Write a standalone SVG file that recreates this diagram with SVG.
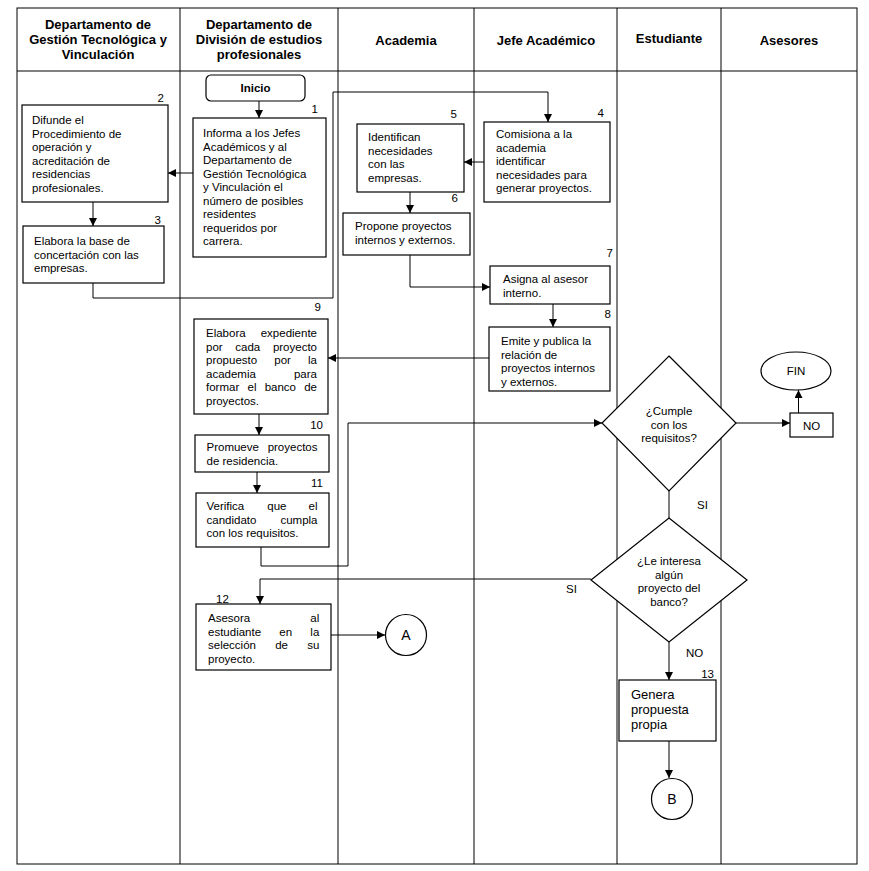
<svg xmlns="http://www.w3.org/2000/svg" width="869" height="871" viewBox="0 0 869 871">
<style>
text{font-family:"Liberation Sans",Arial,sans-serif;fill:#000}
.h{font-size:13px;font-weight:bold;text-anchor:middle}
.t{font-size:11.5px}
.n{font-size:11.5px;text-anchor:end}
.c{text-anchor:middle}
.e{text-anchor:end}
.b{fill:#fff;stroke:#000;stroke-width:1.2}
.grid{fill:none;stroke:#000;stroke-width:1}
.con{fill:none;stroke:#000;stroke-width:1}
</style>
<defs>
<marker id="ar" markerUnits="userSpaceOnUse" markerWidth="9" markerHeight="8" refX="8" refY="4" orient="auto">
<path d="M0,0 L8,4 L0,8 z" fill="#000"/>
</marker>
</defs>
<rect width="869" height="871" fill="#fff"/>
<g id="table">
<rect class="grid" x="17" y="8" width="840" height="856"/>
<line class="grid" x1="17" y1="71" x2="857" y2="71"/>
<line class="grid" x1="180" y1="8" x2="180" y2="864"/>
<line class="grid" x1="338" y1="8" x2="338" y2="864"/>
<line class="grid" x1="474" y1="8" x2="474" y2="864"/>
<line class="grid" x1="617" y1="8" x2="617" y2="864"/>
<line class="grid" x1="721" y1="8" x2="721" y2="864"/>
<text class="h" x="98" y="29">Departamento de</text>
<text class="h" x="98" y="44">Gestión Tecnológica y</text>
<text class="h" x="98" y="59">Vinculación</text>
<text class="h" x="259" y="29">Departamento de</text>
<text class="h" x="259" y="44">División de estudios</text>
<text class="h" x="259" y="59">profesionales</text>
<text class="h" x="406" y="45">Academia</text>
<text class="h" x="546" y="45">Jefe Académico</text>
<text class="h" x="669" y="43">Estudiante</text>
<text class="h" x="789" y="45">Asesores</text>
</g>
<g id="connectors">
<path class="con" d="M259,101 V118" marker-end="url(#ar)"/>
<path class="con" d="M193,173 H168" marker-end="url(#ar)"/>
<path class="con" d="M93,202 V226" marker-end="url(#ar)"/>
<path class="con" d="M93,283 V298 H333 V92 H548 V122" marker-end="url(#ar)"/>
<path class="con" d="M484,162 H464" marker-end="url(#ar)"/>
<path class="con" d="M410,192 V213" marker-end="url(#ar)"/>
<path class="con" d="M410,255 V287 H490" marker-end="url(#ar)"/>
<path class="con" d="M553,304 V327" marker-end="url(#ar)"/>
<path class="con" d="M489,358 H328" marker-end="url(#ar)"/>
<path class="con" d="M259,414 V435" marker-end="url(#ar)"/>
<path class="con" d="M257,472 V493" marker-end="url(#ar)"/>
<path class="con" d="M261,547 V566 H348 V423 H602" marker-end="url(#ar)"/>
<path class="con" d="M736,423 H790" marker-end="url(#ar)"/>
<path class="con" d="M798.5,413 V390" marker-end="url(#ar)"/>
<path class="con" d="M669,491 V518"/>
<path class="con" d="M591,579 H260 V604" marker-end="url(#ar)"/>
<path class="con" d="M331,635 H385" marker-end="url(#ar)"/>
<path class="con" d="M669,642 V680" marker-end="url(#ar)"/>
<path class="con" d="M669,741 V778" marker-end="url(#ar)"/>
<text class="t" x="697" y="509">SI</text>
<text class="t" x="566" y="593">SI</text>
<text class="t" x="686" y="657">NO</text>
</g>
<g id="inicio">
<rect class="b" x="206" y="75" width="99" height="26" rx="5"/>
<text class="t c" x="255.5" y="92" font-weight="bold" font-size="12px">Inicio</text>
</g>
<g id="n1">
<rect class="b" x="193" y="118" width="133" height="139"/>
<text class="n" x="318" y="113">1</text>
<text class="t" x="203"><tspan x="203" y="137">Informa a los Jefes</tspan><tspan x="203" y="150.5">Académicos y al</tspan><tspan x="203" y="164">Departamento de</tspan><tspan x="203" y="177.5">Gestión Tecnológica</tspan><tspan x="203" y="191">y Vinculación el</tspan><tspan x="203" y="204.5">número de posibles</tspan><tspan x="203" y="218">residentes</tspan><tspan x="203" y="231.5">requeridos por</tspan><tspan x="203" y="245">carrera.</tspan></text>
</g>
<g id="n2">
<rect class="b" x="22" y="105" width="146" height="97"/>
<text class="n" x="164" y="102">2</text>
<text class="t"><tspan x="32" y="124">Difunde el</tspan><tspan x="32" y="137.5">Procedimiento de</tspan><tspan x="32" y="151">operación y</tspan><tspan x="32" y="164.5">acreditación de</tspan><tspan x="32" y="178">residencias</tspan><tspan x="32" y="191.5">profesionales.</tspan></text>
</g>
<g id="n3">
<rect class="b" x="23" y="226" width="141" height="57"/>
<text class="n" x="161" y="224">3</text>
<text class="t"><tspan x="34" y="245">Elabora la base de</tspan><tspan x="34" y="258.5">concertación con las</tspan><tspan x="34" y="272">empresas.</tspan></text>
</g>
<g id="n4">
<rect class="b" x="484" y="122" width="126" height="80"/>
<text class="n" x="604" y="117">4</text>
<text class="t"><tspan x="496" y="138">Comisiona a la</tspan><tspan x="496" y="151.5">academia</tspan><tspan x="496" y="165">identificar</tspan><tspan x="496" y="178.5">necesidades para</tspan><tspan x="496" y="192">generar proyectos.</tspan></text>
</g>
<g id="n5">
<rect class="b" x="357" y="124" width="107" height="68"/>
<text class="n" x="457" y="118">5</text>
<text class="t"><tspan x="368" y="141">Identifican</tspan><tspan x="368" y="154.5">necesidades</tspan><tspan x="368" y="168">con las</tspan><tspan x="368" y="181.5">empresas.</tspan></text>
</g>
<g id="n6">
<rect class="b" x="343" y="213" width="127" height="42"/>
<text class="n" x="458" y="202">6</text>
<text class="t"><tspan x="355" y="230">Propone proyectos</tspan><tspan x="355" y="243.5">internos y externos.</tspan></text>
</g>
<g id="n7">
<rect class="b" x="490" y="266" width="120" height="38"/>
<text class="n" x="613" y="257">7</text>
<text class="t"><tspan x="503" y="283">Asigna al asesor</tspan><tspan x="503" y="296.5">interno.</tspan></text>
</g>
<g id="n8">
<rect class="b" x="489" y="327" width="121" height="64"/>
<text class="n" x="611" y="318">8</text>
<text class="t"><tspan x="501" y="345">Emite y publica la</tspan><tspan x="501" y="358.5">relación de</tspan><tspan x="501" y="372">proyectos internos</tspan><tspan x="501" y="385.5">y externos.</tspan></text>
</g>
<g id="n9">
<rect class="b" x="194" y="319" width="134" height="95"/>
<text class="n" x="321" y="311">9</text>
<text class="t"><tspan x="206" y="337">Elabora</tspan><tspan class="e" x="317" y="337">expediente</tspan><tspan x="206" y="350.5">por</tspan><tspan x="235.3" y="350.5">cada</tspan><tspan class="e" x="317" y="350.5">proyecto</tspan><tspan x="206" y="364">propuesto</tspan><tspan x="274.3" y="364">por</tspan><tspan class="e" x="317" y="364">la</tspan><tspan x="206" y="377.5">academia</tspan><tspan class="e" x="317" y="377.5">para</tspan><tspan x="206" y="391">formar</tspan><tspan x="247.5" y="391">el</tspan><tspan x="264.7" y="391">banco</tspan><tspan class="e" x="317" y="391">de</tspan><tspan x="206" y="404.5">proyectos.</tspan></text>
</g>
<g id="n10">
<rect class="b" x="195" y="435" width="134" height="37"/>
<text class="n" x="323" y="429">10</text>
<text class="t"><tspan x="206.5" y="451">Promueve</tspan><tspan class="e" x="317.5" y="451">proyectos</tspan><tspan x="206.5" y="464.5">de residencia.</tspan></text>
</g>
<g id="n11">
<rect class="b" x="196" y="493" width="133" height="54"/>
<text class="n" x="323" y="487">11</text>
<text class="t"><tspan x="206.5" y="510">Verifica</tspan><tspan x="267.3" y="510">que</tspan><tspan class="e" x="317.5" y="510">el</tspan><tspan x="206.5" y="523.5">candidato</tspan><tspan class="e" x="317.5" y="523.5">cumpla</tspan><tspan x="206.5" y="537">con los requisitos.</tspan></text>
</g>
<g id="n12">
<rect class="b" x="196" y="604" width="135" height="66"/>
<text class="t" x="216" y="603">12</text>
<text class="t"><tspan x="208" y="622">Asesora</tspan><tspan class="e" x="319.3" y="622">al</tspan><tspan x="208" y="635.5">estudiante</tspan><tspan x="279.3" y="635.5">en</tspan><tspan class="e" x="319.3" y="635.5">la</tspan><tspan x="208" y="649">selección</tspan><tspan x="275.2" y="649">de</tspan><tspan class="e" x="319.3" y="649">su</tspan><tspan x="208" y="662.5">proyecto.</tspan></text>
</g>
<g id="connA">
<circle cx="406" cy="635" r="20.5" fill="#fff" stroke="#000" stroke-width="1.2"/>
<text class="c" x="406" y="640" font-size="14px">A</text>
</g>
<g id="d1">
<polygon class="b" points="669,356 736,423 669,491 602,423"/>
<text class="t c"><tspan x="669" y="415">¿Cumple</tspan><tspan x="669" y="428.5">con los</tspan><tspan x="669" y="442">requisitos?</tspan></text>
</g>
<g id="no">
<rect class="b" x="790" y="413" width="43" height="24"/>
<text class="t c" x="811.5" y="429.5">NO</text>
</g>
<g id="fin">
<ellipse cx="796" cy="371" rx="35" ry="19" fill="#fff" stroke="#000" stroke-width="1.2"/>
<text class="t c" x="796" y="375">FIN</text>
</g>
<g id="d2">
<polygon class="b" points="669,518 747,580 669,642 591,580"/>
<text class="t c"><tspan x="669" y="565">¿Le interesa</tspan><tspan x="669" y="578.5">algún</tspan><tspan x="669" y="592">proyecto del</tspan><tspan x="669" y="605.5">banco?</tspan></text>
</g>
<g id="n13">
<rect class="b" x="619" y="680" width="97" height="61"/>
<text class="n" x="714" y="678">13</text>
<text font-size="13px"><tspan x="631" y="699">Genera</tspan><tspan x="631" y="714">propuesta</tspan><tspan x="631" y="729">propia</tspan></text>
</g>
<g id="connB">
<circle cx="672" cy="799" r="20.5" fill="#fff" stroke="#000" stroke-width="1.2"/>
<text class="c" x="672" y="804" font-size="14px">B</text>
</g>
</svg>
